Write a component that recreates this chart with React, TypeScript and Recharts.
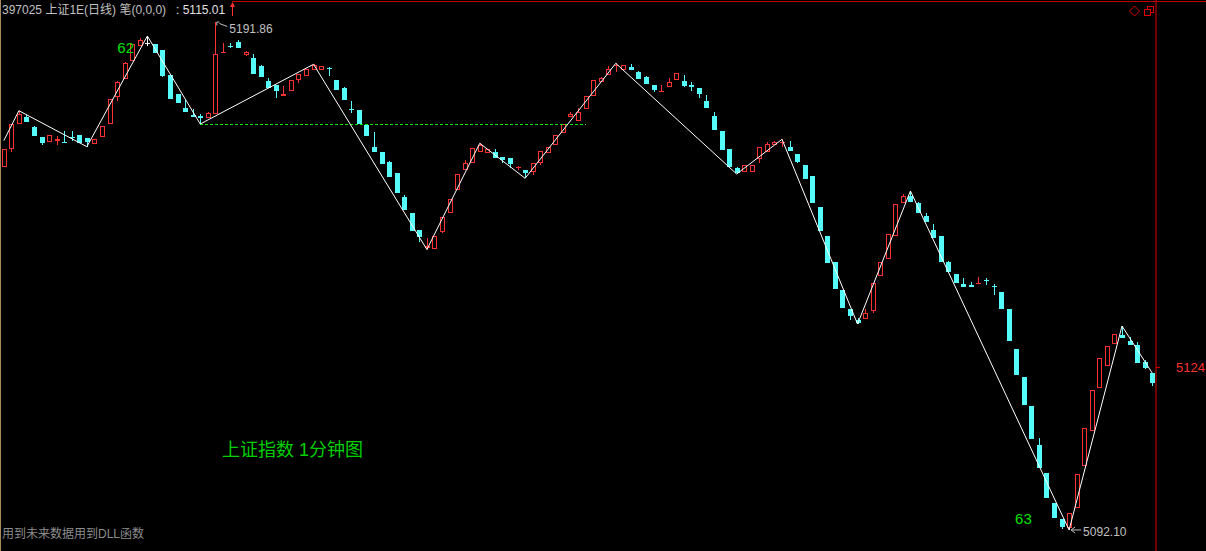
import {
  ComposedChart,
  Bar,
  Line,
  XAxis,
  YAxis,
  ReferenceLine,
  ReferenceDot,
} from "recharts";

// 1-minute candles
const openP = [
  5163.38, 5166.79, 5171.69, 5173.13, 5171.11, 5169.2, 5168.16, 5168.42, 5168.22, 5169.3,
  5169.59, 5169.01, 5167.77, 5169.14, 5171.69, 5177.11, 5180.64, 5184.05, 5187.11, 5187.64,
  5187.45, 5186.27, 5181.37, 5177.64, 5174.89, 5173.52, 5173.32, 5172.99, 5173.71, 5185.82,
  5187.15, 5187.9, 5185.35, 5184.76, 5183.13, 5180.19, 5179.4, 5177.19, 5178.29, 5180.44,
  5181.17, 5182.29, 5182.41, 5182.74, 5180.38, 5178.82, 5174.7, 5174.5, 5171.56, 5167.18,
  5166.32, 5164.36, 5162.08, 5157.49, 5154.23, 5150.96, 5147.42, 5147.17, 5150.62, 5154.35,
  5158.8, 5162.73, 5164.16, 5166.2, 5166.0, 5166.32, 5165.22, 5165.02, 5163.22, 5162.73,
  5162.39, 5164.16, 5166.12, 5167.63, 5169.93, 5173.07, 5172.4, 5174.7, 5177.3, 5179.93,
  5181.37, 5183.23, 5182.35, 5182.99, 5182.01, 5181.03, 5179.4, 5178.09, 5179.07, 5180.38,
  5180.25, 5179.4, 5178.87, 5176.32, 5173.32, 5170.38, 5166.85, 5163.06, 5162.28, 5162.39,
  5164.89, 5166.2, 5167.63, 5168.12, 5167.3, 5165.87, 5163.71, 5161.55, 5155.53, 5149.78,
  5144.68, 5139.18, 5135.46, 5133.3, 5133.44, 5135.12, 5141.99, 5145.21, 5149.84, 5156.31,
  5157.69, 5156.19, 5153.7, 5150.96, 5149.78, 5144.68, 5142.32, 5140.36, 5140.17, 5140.36,
  5141.05, 5140.01, 5138.73, 5135.4, 5127.61, 5122.12, 5116.43, 5108.78, 5103.34, 5097.34,
  5094.26, 5092.4, 5096.36, 5104.71, 5111.58, 5120.02, 5124.33, 5128.53, 5130.36, 5129.24,
  5128.39, 5125.06, 5122.9,
];
const highP = [
  5166.79, 5171.69, 5174.36, 5173.52, 5171.36, 5169.2, 5169.54, 5169.46, 5170.38, 5170.38,
  5169.59, 5169.01, 5168.75, 5171.3, 5176.6, 5180.19, 5183.98, 5187.45, 5188.68, 5189.02,
  5187.45, 5186.27, 5181.37, 5177.64, 5176.6, 5174.64, 5173.77, 5174.17, 5191.86, 5187.64,
  5187.59, 5188.29, 5186.13, 5185.54, 5183.33, 5180.84, 5179.4, 5179.21, 5180.33, 5181.56,
  5182.54, 5183.47, 5183.07, 5182.99, 5180.38, 5179.07, 5176.26, 5174.5, 5171.56, 5170.24,
  5166.32, 5164.55, 5162.08, 5157.82, 5154.23, 5150.96, 5149.45, 5149.78, 5153.51, 5156.98,
  5161.88, 5164.69, 5166.99, 5167.97, 5166.79, 5166.79, 5165.22, 5165.02, 5163.51, 5162.73,
  5164.04, 5166.46, 5167.3, 5169.59, 5171.75, 5174.11, 5174.83, 5177.25, 5180.38, 5181.03,
  5183.13, 5183.66, 5183.33, 5183.52, 5182.21, 5181.23, 5179.4, 5179.4, 5180.72, 5181.7,
  5181.37, 5179.93, 5178.87, 5177.44, 5174.17, 5170.38, 5166.85, 5163.26, 5163.71, 5163.71,
  5167.18, 5168.16, 5168.48, 5168.75, 5168.42, 5165.87, 5163.71, 5161.55, 5155.53, 5149.78,
  5144.68, 5139.18, 5135.46, 5133.63, 5135.4, 5140.5, 5144.68, 5150.11, 5156.0, 5158.02,
  5158.61, 5156.51, 5154.23, 5152.13, 5149.78, 5144.87, 5142.32, 5141.48, 5140.81, 5141.79,
  5141.48, 5140.36, 5138.73, 5135.4, 5127.61, 5122.12, 5116.43, 5110.21, 5103.34, 5097.34,
  5094.26, 5095.38, 5103.09, 5112.05, 5119.57, 5125.84, 5128.2, 5130.49, 5132.12, 5130.02,
  5129.04, 5125.45, 5122.9,
];
const lowP = [
  5163.38, 5166.32, 5171.69, 5172.2, 5169.46, 5167.69, 5168.16, 5167.63, 5168.12, 5168.48,
  5167.97, 5167.3, 5167.77, 5169.14, 5171.69, 5176.32, 5180.64, 5184.05, 5187.11, 5187.06,
  5185.74, 5181.03, 5176.66, 5175.93, 5174.17, 5173.18, 5171.75, 5172.99, 5173.71, 5185.82,
  5186.6, 5186.72, 5185.03, 5181.62, 5180.97, 5178.87, 5176.91, 5177.19, 5178.29, 5179.86,
  5181.17, 5182.29, 5182.41, 5181.23, 5178.42, 5176.46, 5173.97, 5171.75, 5169.4, 5166.32,
  5163.91, 5161.41, 5158.27, 5154.88, 5150.82, 5148.66, 5147.13, 5147.17, 5150.43, 5154.35,
  5158.8, 5162.73, 5164.16, 5166.2, 5166.0, 5165.02, 5164.04, 5163.06, 5162.73, 5161.1,
  5161.75, 5163.71, 5166.12, 5167.63, 5169.93, 5173.07, 5172.4, 5174.7, 5177.3, 5179.93,
  5181.37, 5182.01, 5182.35, 5182.35, 5180.58, 5179.6, 5178.09, 5178.09, 5179.07, 5180.38,
  5178.95, 5178.29, 5176.91, 5174.95, 5170.58, 5166.65, 5163.38, 5161.94, 5162.28, 5162.39,
  5164.04, 5166.2, 5167.63, 5167.3, 5166.46, 5164.16, 5160.96, 5156.31, 5150.82, 5144.54,
  5139.44, 5135.71, 5133.3, 5132.51, 5133.44, 5134.73, 5141.99, 5145.21, 5149.84, 5156.31,
  5156.51, 5154.35, 5152.59, 5149.45, 5144.74, 5142.78, 5140.62, 5139.71, 5139.83, 5140.36,
  5140.17, 5138.2, 5135.46, 5129.24, 5122.51, 5116.62, 5109.95, 5104.32, 5098.44, 5094.51,
  5092.3, 5092.1, 5096.36, 5104.71, 5111.58, 5120.02, 5124.33, 5128.53, 5129.83, 5128.39,
  5124.8, 5123.63, 5120.41,
];
const closeP = [
  5166.79, 5171.69, 5173.66, 5172.2, 5169.46, 5168.08, 5169.54, 5168.81, 5168.12, 5169.2,
  5167.97, 5168.22, 5168.75, 5171.3, 5176.6, 5179.93, 5183.66, 5187.45, 5188.23, 5187.64,
  5185.74, 5181.23, 5176.66, 5175.93, 5174.17, 5173.18, 5172.93, 5173.97, 5185.49, 5185.92,
  5187.06, 5186.72, 5185.88, 5181.62, 5180.97, 5178.87, 5178.29, 5177.64, 5180.33, 5181.56,
  5182.54, 5183.33, 5183.07, 5182.62, 5178.42, 5176.46, 5174.58, 5171.75, 5169.4, 5166.32,
  5163.91, 5161.41, 5158.27, 5154.88, 5150.82, 5149.64, 5147.72, 5149.78, 5153.51, 5156.98,
  5161.88, 5164.04, 5166.99, 5167.63, 5166.79, 5165.02, 5164.69, 5163.9, 5163.28, 5162.2,
  5164.04, 5166.46, 5167.3, 5169.59, 5171.75, 5173.66, 5174.17, 5177.25, 5180.38, 5180.72,
  5182.54, 5183.33, 5183.33, 5182.35, 5180.58, 5179.6, 5178.42, 5178.32, 5180.05, 5181.7,
  5179.27, 5178.95, 5177.64, 5174.95, 5170.58, 5166.65, 5163.38, 5162.08, 5163.71, 5163.71,
  5167.18, 5167.77, 5168.16, 5168.22, 5166.46, 5164.36, 5160.96, 5156.31, 5150.82, 5144.54,
  5139.44, 5135.71, 5134.14, 5132.77, 5134.67, 5140.5, 5144.68, 5150.11, 5156.0, 5157.63,
  5156.51, 5154.35, 5152.59, 5149.45, 5144.74, 5142.78, 5140.62, 5139.71, 5139.83, 5140.56,
  5140.95, 5139.91, 5135.46, 5129.24, 5122.51, 5116.62, 5109.95, 5104.32, 5098.44, 5094.51,
  5092.75, 5095.38, 5103.09, 5112.05, 5119.57, 5125.84, 5128.2, 5130.49, 5129.83, 5128.39,
  5124.8, 5123.82, 5121.0,
];

// 笔 (zigzag) turning points
const pivotIdx = [0, 2, 11, 19, 26, 41, 56, 63, 69, 81, 97, 103, 113, 120, 141, 148, 152];
const pivotVal = [
  5168.48, 5174.36, 5167.3, 5189.02, 5171.75, 5183.47, 5147.13, 5167.97, 5161.1, 5183.66,
  5161.94, 5168.75, 5132.51, 5158.61, 5092.1, 5132.12, 5122.9,
];

const priceTicks = [5124];
const Y_DOMAIN = [5087.98, 5196.08];

const RED = "#ff3232";
const CYAN = "#54fcfc";
const FONT = '"Liberation Sans", Arial, "Noto Sans CJK SC", sans-serif';

type Row = {
  i: number;
  open: number;
  high: number;
  low: number;
  close: number;
  range: [number, number];
  zz?: number;
};

const data: Row[] = openP.map((o, i) => {
  const k = pivotIdx.indexOf(i);
  return {
    i,
    open: o,
    high: highP[i],
    low: lowP[i],
    close: closeP[i],
    range: [lowP[i], highP[i]],
    zz: k >= 0 ? pivotVal[k] : undefined,
  };
});

function Candle(props: any) {
  const { x, y, width, height, payload } = props;
  if (!payload) return null;
  const { open, high, low, close } = payload as Row;
  const span = high - low || 1;
  const py = (v: number) => y + ((high - v) / span) * height;
  const cx = Math.round(x + width / 2);
  const wx = cx + 0.5;
  const top = Math.round(py(Math.max(open, close)));
  const bot = Math.round(py(Math.min(open, close)));
  const hi = Math.round(py(high));
  const lo = Math.round(py(low));

  if (open === close) {
    return (
      <g stroke="#ffffff" strokeWidth={1}>
        <line x1={wx} x2={wx} y1={hi} y2={lo} />
        <line x1={cx - 2} x2={cx + 3} y1={top + 0.5} y2={top + 0.5} />
      </g>
    );
  }

  if (close < open) {
    return (
      <g>
        <line x1={wx} x2={wx} y1={hi} y2={lo} stroke={CYAN} strokeWidth={1} />
        <rect x={cx - 2} y={top} width={5} height={Math.max(1, bot - top)} fill={CYAN} />
      </g>
    );
  }

  const h = bot - top;
  return (
    <g stroke={RED} strokeWidth={1} fill="none">
      {hi < top && <line x1={wx} x2={wx} y1={hi} y2={top} />}
      {lo > bot && <line x1={wx} x2={wx} y1={bot} y2={lo} />}
      {h >= 2 ? (
        <rect x={cx - 1.5} y={top + 0.5} width={4} height={h - 1} />
      ) : (
        <line x1={cx - 2} x2={cx + 3} y1={top + 0.5} y2={top + 0.5} />
      )}
    </g>
  );
}

function HighMark({ cx, cy }: any) {
  return (
    <g>
      <path
        d={`M${cx + 1.5},${cy + 4} L${cx + 1.5},${cy + 0.5} L${cx + 4},${cy + 0.5} M${cx + 4},${cy + 2} L${cx + 12},${cy + 5}`}
        stroke="#c0c0c0"
        fill="none"
      />
      <text x={cx + 14} y={cy + 11} fill="#c0c0c0" fontSize={12} fontFamily={FONT}>
        5191.86
      </text>
    </g>
  );
}

function LowMark({ cx, cy }: any) {
  return (
    <g>
      <path
        d={`M${cx + 2},${cy} L${cx + 12},${cy} M${cx + 6},${cy - 3} L${cx + 2},${cy} L${cx + 6},${cy + 3}`}
        stroke="#c0c0c0"
        fill="none"
      />
      <text x={cx + 14} y={cy + 6} fill="#c0c0c0" fontSize={12} fontFamily={FONT}>
        5092.10
      </text>
    </g>
  );
}

function CountMark(label: string, dx: number, dy: number) {
  return ({ cx, cy }: any) => (
    <text x={cx + dx} y={cy + dy} fill="#00e000" fontSize={15} fontFamily={FONT}>
      {label}
    </text>
  );
}

export default function App() {
  return (
    <div
      style={{
        position: "fixed",
        left: 0,
        top: 0,
        width: 1206,
        height: 551,
        background: "#000",
        overflow: "hidden",
      }}
    >
      <ComposedChart
        width={1206}
        height={551}
        data={data}
        margin={{ top: 0, right: 0, bottom: 0, left: 0 }}
      >
        <XAxis dataKey="i" type="category" hide />
        <YAxis
          orientation="right"
          width={50}
          domain={Y_DOMAIN}
          allowDataOverflow
          ticks={priceTicks}
          axisLine={{ stroke: "#e00000" }}
          tickLine={{ stroke: "#e00000" }}
          tickSize={4}
          tickMargin={16}
          tick={{ fill: RED, fontSize: 13, fontFamily: FONT }}
        />
        <Bar dataKey="range" shape={Candle} isAnimationActive={false} />
        <ReferenceLine
          segment={[
            { x: 26, y: 5171.75 },
            { x: 77, y: 5171.75 },
          ]}
          stroke="#00f000"
          strokeDasharray="3 2"
          shapeRendering="crispEdges"
        />
        <Line
          type="linear"
          dataKey="zz"
          stroke="#ffffff"
          strokeWidth={1}
          dot={false}
          activeDot={false}
          connectNulls
          isAnimationActive={false}
        />
        <ReferenceDot x={28} y={5191.86} r={0} shape={HighMark} />
        <ReferenceDot x={141} y={5092.1} r={0} shape={LowMark} />
        <ReferenceDot x={19} y={5189.02} r={0} shape={CountMark("62", -30, 17)} />
        <ReferenceDot x={141} y={5092.1} r={0} shape={CountMark("63", -54, -6)} />
      </ComposedChart>

      <svg
        width={1206}
        height={551}
        style={{ position: "absolute", left: 0, top: 0, pointerEvents: "none" }}
      >
        <line x1={0.5} x2={0.5} y1={0} y2={551} stroke="#a88a5a" />
        <line x1={232} x2={1206} y1={1.5} y2={1.5} stroke="#c00000" />
        <text x={2} y={14} fill="#c0c0c0" fontSize={12} fontFamily={FONT}>
          397025 上证1E(日线) 笔(0,0,0)
        </text>
        <text x={176} y={14} fill="#e0e0e0" fontSize={12} fontFamily={FONT}>
          : 5115.01
        </text>
        <path d="M232.5,16 L232.5,4" stroke={RED} />
        <path d="M230,7 L232.5,2 L235,7 Z" fill={RED} />
        <path d="M1134.5,6 L1139.5,11 L1134.5,16 L1129.5,11 Z" stroke="#e00000" fill="none" />
        <rect x={1147.5} y={6.5} width={6} height={6} stroke="#e00000" fill="none" />
        <rect x={1144.5} y={9.5} width={6} height={6} stroke="#e00000" fill="#000" />
        <text x={222} y={456} fill="#00d000" fontSize={18} fontFamily={FONT}>
          上证指数 1分钟图
        </text>
        <text x={2} y={538} fill="#8c8c8c" fontSize={12} fontFamily={FONT}>
          用到未来数据用到DLL函数
        </text>
      </svg>
    </div>
  );
}
